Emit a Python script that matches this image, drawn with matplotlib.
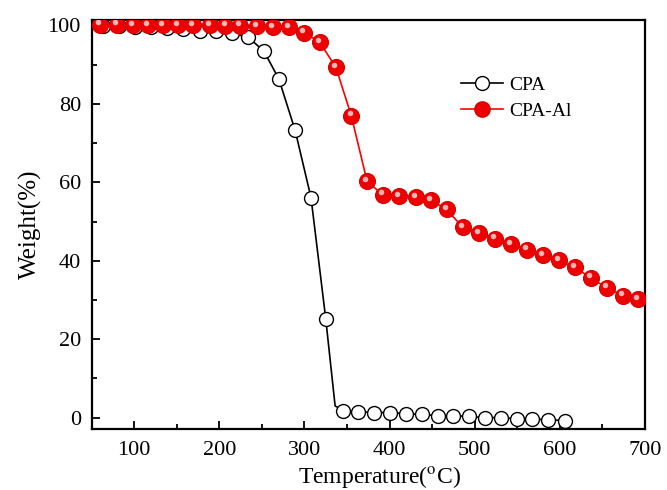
import numpy as np
import matplotlib
matplotlib.use("Agg")
import matplotlib.pyplot as plt
from matplotlib import transforms
from matplotlib.lines import Line2D

plt.rcParams["font.family"] = ["Liberation Serif", "DejaVu Serif"]
plt.rcParams["mathtext.fontset"] = "stix"

# CPA (open circles); the 336 C point is only a line knee, no marker
cpa_t = [63.6, 82.4, 101, 120, 138.7, 157.5, 177.5, 196, 215, 234, 252.6, 270, 289, 307.7, 325,
         336, 345, 363, 382, 400.5, 419, 438, 457, 474, 493, 512, 531, 549.5, 567, 586, 606]
cpa_w = [99.9, 99.8, 99.7, 99.6, 99.4, 99.2, 98.7, 98.5, 98.0, 97.0, 93.4, 86.3, 73.3, 56.1, 25.2,
         3.0, 1.8, 1.5, 1.3, 1.3, 1.0, 0.8, 0.5, 0.5, 0.3, 0.0, 0.0, -0.3, -0.4, -0.5, -0.8]
cpa_marks = [i for i in range(len(cpa_t)) if i != 15]

# CPA-Al (filled red spheres)
al_t = [60, 80, 98.8, 116.4, 134, 151.6, 169, 189, 207, 224, 244, 263, 282, 299.5, 318, 337, 355,
        373.5, 392, 411, 431, 448.6, 467, 486, 505, 524, 542.5, 561, 580, 599, 617.6, 636, 655, 674, 691.5]
al_w = [100.2, 100.2, 100.1, 100.1, 100.1, 100.0, 100.0, 100.0, 99.9, 99.9, 99.8, 99.5, 99.5, 98.2,
        95.7, 89.3, 77.0, 60.3, 56.8, 56.5, 56.2, 55.4, 53.1, 48.5, 47.0, 45.6, 44.2, 42.8, 41.4, 40.1,
        38.3, 35.7, 33.1, 31.1, 30.2]

fig = plt.figure(figsize=(6.67, 4.9), dpi=100)
ax = fig.add_axes([0.138, 0.1245, 0.829, 0.8355])

ax.plot(cpa_t, cpa_w, color="black", lw=1.2, marker="o", ms=10, mfc="white", mec="black",
        mew=1.0, markevery=cpa_marks, zorder=2)
ax.plot(al_t, al_w, color="red", lw=1.2, marker="o", ms=11.5, mfc="#ee0000", mec="#d80000",
        mew=0.8, zorder=3)
# highlight on the spheres
hl = transforms.offset_copy(ax.transData, fig=fig, x=-1.2, y=1.8, units="points")
ax.plot(al_t, al_w, ls="none", marker="o", ms=4, mfc="#ffb4b4", mec="none",
        transform=hl, zorder=4)

ax.set_xlim(50.5, 700)
ax.set_ylim(-2.9, 101.5)
ax.set_xticks([100, 200, 300, 400, 500, 600, 700])
ax.set_xticks(np.arange(150, 700, 100), minor=True)
ax.set_yticks([0, 20, 40, 60, 80, 100])
ax.set_yticks([10, 30, 50, 70, 90], minor=True)
ax.tick_params(which="both", direction="in", top=False, right=False, labelsize=16, width=1.3)
ax.tick_params(which="major", length=6)
ax.tick_params(which="minor", length=3.5)
ax.tick_params(axis="x", which="major", pad=9)
ax.tick_params(axis="y", which="major", pad=8)
for s in ax.spines.values():
    s.set_linewidth(1.6)

ax.set_xlabel("Temperature($^{\\mathrm{o}}$C)", fontsize=17, labelpad=1)
ax.xaxis.set_label_coords(0.52, -0.085)
ax.set_ylabel("Weight(%)", fontsize=18, labelpad=4)

handles = [
    Line2D([], [], color="black", lw=1.2, marker="o", ms=10, mfc="white", mec="black"),
    Line2D([], [], color="red", lw=1.2, marker="o", ms=11, mfc="#ee0000", mec="#d80000"),
]
ax.legend(handles, ["CPA", "CPA-Al"], loc="upper left", bbox_to_anchor=(0.635, 0.905),
          frameon=False, fontsize=14, handlelength=2.2, handletextpad=0.3, labelspacing=0.45)

fig.savefig("out.png", dpi=100)
